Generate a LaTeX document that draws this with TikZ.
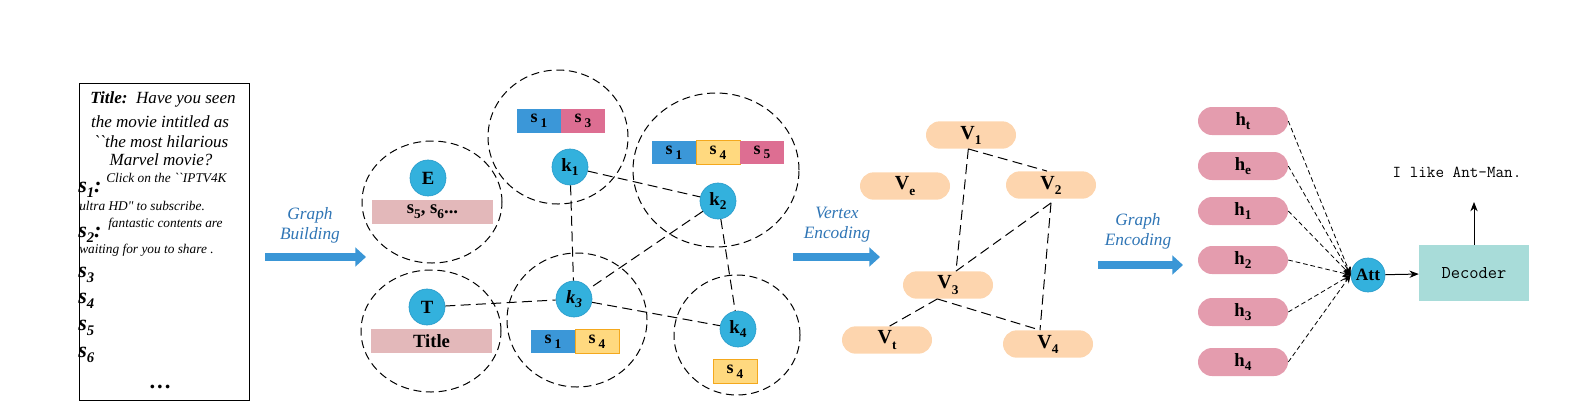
\documentclass[tikz,border=0pt]{standalone}
\usepackage{fontspec}
\setmainfont{Liberation Serif}[Ligatures=TeXOff]
\usetikzlibrary{arrows.meta,shapes.misc}
\definecolor{kblue}{HTML}{33B1DD}
\definecolor{kborder}{HTML}{2A9CCB}
\definecolor{sblue}{HTML}{3B97D8}
\definecolor{spink}{HTML}{DD6E92}
\definecolor{syellow}{HTML}{FFD97F}
\definecolor{sorange}{HTML}{F4A81D}
\definecolor{barpink}{HTML}{E3B8BA}
\definecolor{peach}{HTML}{FDD5AE}
\definecolor{hpink}{HTML}{E49CAE}
\definecolor{teal}{HTML}{A8DCD9}
\definecolor{arrowblue}{HTML}{3A96D6}
\definecolor{labelblue}{HTML}{2F75B5}
\newcommand{\lsub}[1]{\raisebox{-0.55ex}{\fontsize{10}{12}\selectfont #1}}
\newcommand{\bigsub}[1]{\raisebox{-0.5ex}{\fontsize{11}{12}\selectfont #1}}
\begin{document}
\begin{tikzpicture}[x=0.75pt,y=-0.75pt,
 region/.style={draw=black, line width=0.75pt, dash pattern=on 6pt off 3.5pt},
 kn/.style={circle, fill=kblue, draw=kborder, line width=0.5pt, minimum size=27pt, inner sep=0pt, font=\fontsize{14}{16}\selectfont\bfseries},
 cell/.style={rectangle, minimum width=33pt, minimum height=17.5pt, inner sep=0pt, font=\fontsize{13.5}{15}\selectfont\bfseries},
 ycell/.style={cell, fill=syellow, draw=sorange, line width=0.75pt},
 bcell/.style={cell, fill=sblue},
 pcell/.style={cell, fill=spink},
 wbar/.style={rectangle, fill=barpink, minimum width=90.75pt, minimum height=18pt, inner sep=0pt, font=\fontsize{14}{16}\selectfont\bfseries},
 kedge/.style={line width=0.75pt, dash pattern=on 7.5pt off 4pt},
 vn/.style={rounded rectangle, fill=peach, minimum width=67.5pt, minimum height=20.5pt, inner sep=0pt, font=\fontsize{15}{17}\selectfont\bfseries},
 hn/.style={vn, fill=hpink, minimum height=21pt, font=\fontsize{14}{16}\selectfont\bfseries},
 hedge/.style={line width=0.6pt, dash pattern=on 3.5pt off 2.2pt, -{Stealth[length=6pt,width=5pt]}},
 bigarrow/.style={draw=arrowblue, line width=6pt, -{Triangle[length=8pt,width=14pt]}},
 steplabel/.style={text=labelblue, font=\fontsize{13}{15}\selectfont\itshape, align=center},
 txt/.style={inner sep=0pt, anchor=base west},
 smalltxt/.style={txt, font=\fontsize{10}{12}\selectfont\itshape},
 slab/.style={txt, font=\fontsize{16.5}{18}\selectfont\bfseries\itshape},
 solidarrow/.style={line width=0.75pt, -{Stealth[length=7pt,width=5.5pt]}},
]
\useasboundingbox (0,0) rectangle (1592,419);

% ---------- text block ----------
\draw[line width=0.75pt] (79,83) rectangle (249,400);
\node[inner sep=0pt, anchor=base, font=\fontsize{12.8}{15}\selectfont] (l1) at (163,103) {\textbf{\textit{Title:}}\enspace\textit{Have you seen}};
\node[inner sep=0pt, anchor=base, font=\fontsize{12.8}{15}\selectfont\itshape] (l2) at (160,127) {the movie intitled as};
\node[inner sep=0pt, anchor=base, font=\fontsize{12.8}{15}\selectfont\itshape] (l3) at (161,147) {``the most hilarious};
\node[inner sep=0pt, anchor=base, font=\fontsize{12.8}{15}\selectfont\itshape] (l4) at (161,165) {Marvel movie?};
\node[slab] (s1) at (78,192) {s\bigsub{1}:};
\node[smalltxt] (c1) at (106,182) {Click on the ``IPTV4K};
\node[smalltxt] (c2) at (79,210) {ultra HD" to subscribe.};
\node[slab] (s2) at (78,237) {s\bigsub{2}:};
\node[smalltxt] (c3) at (108,227) {fantastic contents are};
\node[smalltxt] (c4) at (79,253) {waiting for you to share .};
\node[slab] (s3) at (78,277) {s\bigsub{3}};
\node[slab] (s4) at (78,303) {s\bigsub{4}};
\node[slab] (s5) at (78,330) {s\bigsub{5}};
\node[slab] (s6) at (78,357) {s\bigsub{6}};
\node[inner sep=0pt, anchor=base, font=\fontsize{17}{18}\selectfont\bfseries] (dots) at (160,388) {.\kern1.5pt.\kern1.5pt.};

% ---------- arrows between stages ----------
\coordinate (a1s) at (265,257); \coordinate (a1e) at (366,257);
\draw[bigarrow] (a1s) -- (a1e);
\node[steplabel] (lab1) at (310,225) {Graph\\Building};
\coordinate (a2s) at (793,257); \coordinate (a2e) at (880,257);
\draw[bigarrow] (a2s) -- (a2e);
\node[steplabel] (lab2) at (837,225) {Vertex\\Encoding};
\coordinate (a3s) at (1098,265); \coordinate (a3e) at (1183,265);
\draw[bigarrow] (a3s) -- (a3e);
\node[steplabel] (lab3) at (1138,231) {Graph\\Encoding};

% ---------- graph building ----------
\draw[region] (432,202) ellipse [x radius=52.5pt, y radius=45.75pt];
\draw[region] (558,137) ellipse [x radius=52.5pt, y radius=50.25pt];
\draw[region] (716,170) ellipse [x radius=62.25pt, y radius=57.75pt];
\draw[region] (431,331) ellipse [x radius=52.5pt, y radius=45.75pt];
\draw[region] (577,320) ellipse [x radius=52.5pt, y radius=50.25pt];
\draw[region] (737,335) ellipse [x radius=47.25pt, y radius=45pt];

\node[kn] (E) at (428,178) {E};
\node[wbar] (Ebar) at (432.5,212) {s\lsub{5}, s\lsub{6}...};
\node[kn] (T) at (427,307) {T};
\node[wbar] (Tbar) at (431.5,341) {Title};

\node[kn] (k1) at (570,167) {k\lsub{1}};
\node[bcell] (k1a) at (539,121) {s\,\lsub{1}};
\node[pcell] (k1b) at (583,121) {s\,\lsub{3}};

\node[kn] (k2) at (718,201) {k\lsub{2}};
\node[bcell] (k2a) at (674,152.5) {s\,\lsub{1}};
\node[ycell] (k2b) at (718,152.5) {s\,\lsub{4}};
\node[pcell] (k2c) at (762,152.5) {s\,\lsub{5}};

\node[kn] (k3) at (574,299) {\textit{k\lsub{3}}};
\node[bcell] (k3a) at (553,341.5) {s\,\lsub{1}};
\node[ycell] (k3b) at (597,341.5) {s\,\lsub{4}};

\node[kn] (k4) at (738,329) {k\lsub{4}};
\node[ycell] (k4a) at (735,371.5) {s\,\lsub{4}};

\draw[kedge] (k1) -- (k2);
\draw[kedge] (k1) -- (k3);
\draw[kedge] (k2) -- (k3);
\draw[kedge] (k2) -- (k4);
\draw[kedge] (k3) -- (k4);
\draw[kedge] (T) -- (k3);

% ---------- vertex encoding ----------
\node[vn] (V1) at (971,135) {V\lsub{1}};
\node[vn] (Ve) at (905,186) {V\lsub{e}};
\node[vn] (V2) at (1051,185) {V\lsub{2}};
\node[vn] (V3) at (948,285) {V\lsub{3}};
\node[vn] (Vt) at (887,340) {V\lsub{t}};
\node[vn] (V4) at (1048,344) {V\lsub{4}};

\draw[kedge] ([xshift=-2pt]V1.south) -- ([xshift=-3pt]V2.north);
\draw[kedge] ([xshift=-2pt]V1.south) -- ([xshift=6pt]V3.north);
\draw[kedge] ([yshift=-3pt]V2.south) -- ([xshift=6pt]V3.north);
\draw[kedge] ([yshift=-3pt]V2.south) -- ([xshift=-6pt]V4.north);
\draw[kedge] ([xshift=-8pt]V3.south) -- ([xshift=-6pt]V4.north);
\draw[kedge] ([xshift=-8pt]V3.south) -- ([xshift=2pt]Vt.north);

% ---------- graph encoding ----------
\node[hn] (ht) at (1243,121) {h\lsub{t}};
\node[hn] (he) at (1243,166) {h\lsub{e}};
\node[hn] (h1) at (1243,211) {h\lsub{1}};
\node[hn] (h2) at (1243,260) {h\lsub{2}};
\node[hn] (h3) at (1243,312) {h\lsub{3}};
\node[hn] (h4) at (1243,362) {h\lsub{4}};

\node[kn, minimum size=25.5pt, font=\fontsize{13}{15}\selectfont\bfseries] (att) at (1368,275) {Att};
\foreach \h in {ht,he,h1,h2,h3,h4} \draw[hedge] (\h.east) -- (att.west);

\node[rectangle, fill=teal, minimum width=82.5pt, minimum height=42pt, inner sep=0pt, font=\ttfamily\fontsize{13.5}{15}\selectfont] (dec) at (1474,273) {Decoder\hspace{10pt}};
\draw[solidarrow] (att) -- (dec);
\coordinate (outtip) at (1474,202);
\draw[solidarrow] (dec.north) -- (outtip);
\node[inner sep=0pt, font=\ttfamily\fontsize{12.5}{14}\selectfont] (out) at (1457,172) {I like Ant-Man.};
\end{tikzpicture}
\end{document}
